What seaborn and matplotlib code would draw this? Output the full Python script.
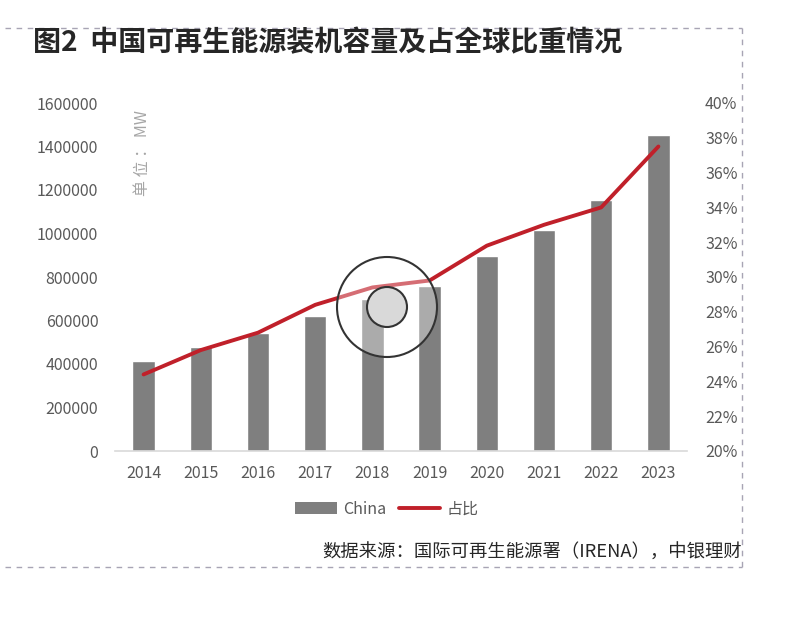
import numpy as np
import pandas as pd
import seaborn as sns
import matplotlib.pyplot as plt
from matplotlib.patches import Circle, Patch
from matplotlib.lines import Line2D
from matplotlib.ticker import FuncFormatter, MultipleLocator

years = ["2014", "2015", "2016", "2017", "2018", "2019", "2020", "2021", "2022", "2023"]
china_mw = [414000, 480000, 541000, 622000, 697000, 759000, 897000, 1018000, 1154000, 1452000]
share_pct = [24.4, 25.8, 26.8, 28.4, 29.4, 29.8, 31.8, 33.0, 34.0, 37.5]

sns.set_theme(style="white")
plt.rcParams["font.family"] = ["Noto Sans CJK SC", "DejaVu Sans"]

GRAY = "#7f7f7f"
RED = "#c0202a"
TXT = "#595959"

df = pd.DataFrame({"year": years, "China": china_mw, "share": share_pct})

fig = plt.figure(figsize=(7.94, 6.3), dpi=100)
ax = fig.add_axes([115 / 794, 1 - 451 / 630, 572 / 794, 348 / 630])

sns.barplot(data=df, x="year", y="China", color=GRAY, width=0.39, saturation=1, ax=ax)
ax.set_ylim(0, 1600000)
ax.set_xlim(-0.5, len(years) - 0.5)
ax.yaxis.set_major_locator(MultipleLocator(200000))
ax.yaxis.set_major_formatter(FuncFormatter(lambda v, p: f"{v:.0f}"))
ax.set_xlabel("")
ax.set_ylabel("")
for s in ["top", "right", "left"]:
    ax.spines[s].set_visible(False)
ax.spines["bottom"].set_color("#d9d9d9")
ax.spines["bottom"].set_linewidth(1.2)
ax.tick_params(axis="both", length=0, labelsize=11.5, colors=TXT)
ax.tick_params(axis="x", pad=10)
ax.tick_params(axis="y", pad=12)

ax2 = ax.twinx()
sns.lineplot(x=np.arange(len(years)), y=df["share"], color=RED, linewidth=2.8, ax=ax2)
ax2.set_ylim(20, 40)
ax2.yaxis.set_major_locator(MultipleLocator(2))
ax2.yaxis.set_major_formatter(FuncFormatter(lambda v, p: f"{v:.0f}%"))
ax2.set_ylabel("")
for s in ["top", "right", "left", "bottom"]:
    ax2.spines[s].set_visible(False)
ax2.tick_params(axis="y", length=0, labelsize=11.5, colors=TXT, pad=13)

# unit label
fig.text(143 / 794, 1 - 153 / 630, "单 位 ： MW", rotation=90, ha="center", va="center",
         fontsize=11.5, color="#a6a6a6")

# title
fig.text(33 / 794, 1 - 43 / 630, "图2  中国可再生能源装机容量及占全球比重情况", fontsize=20.2,
         fontweight="bold", color="#262626", ha="left", va="center")

# legend
handles = [Patch(facecolor=GRAY, edgecolor="none"),
           Line2D([0], [0], color=RED, linewidth=2.8)]
fig.legend(handles, ["China", "占比"], loc="center", bbox_to_anchor=(387 / 794, 1 - 509 / 630),
           ncol=2, frameon=False, fontsize=11.5, labelcolor=TXT, handlelength=2.6,
           handleheight=0.8, columnspacing=0.8, handletextpad=0.4)

# source
fig.text(742 / 794, 1 - 553 / 630, "数据来源：国际可再生能源署（IRENA），中银理财", fontsize=13.2,
         color="#262626", ha="right", va="center")

# dashed frame
dash = dict(color="#a8a4b4", linewidth=1, linestyle=(0, (4, 4)), transform=fig.transFigure)
fig.add_artist(Line2D([5 / 794, 742 / 794], [1 - 28 / 630, 1 - 28 / 630], **dash))
fig.add_artist(Line2D([5 / 794, 742 / 794], [1 - 567 / 630, 1 - 567 / 630], **dash))
fig.add_artist(Line2D([742 / 794, 742 / 794], [1 - 28 / 630, 1 - 567 / 630], **dash))

# cursor highlight circles
cx, cy = 387 / 794 * 7.94, (1 - 307 / 630) * 6.3
big = Circle((cx, cy), 0.50, transform=fig.dpi_scale_trans, facecolor="white", alpha=0.35,
             edgecolor="none")
big_edge = Circle((cx, cy), 0.50, transform=fig.dpi_scale_trans, facecolor="none",
                  edgecolor="#333333", linewidth=1.5)
small = Circle((cx, cy), 0.20, transform=fig.dpi_scale_trans, facecolor="#d9d9d9",
               edgecolor="#333333", linewidth=1.5)
for c in (big, big_edge, small):
    fig.add_artist(c)

fig.savefig("out.png", dpi=100)
